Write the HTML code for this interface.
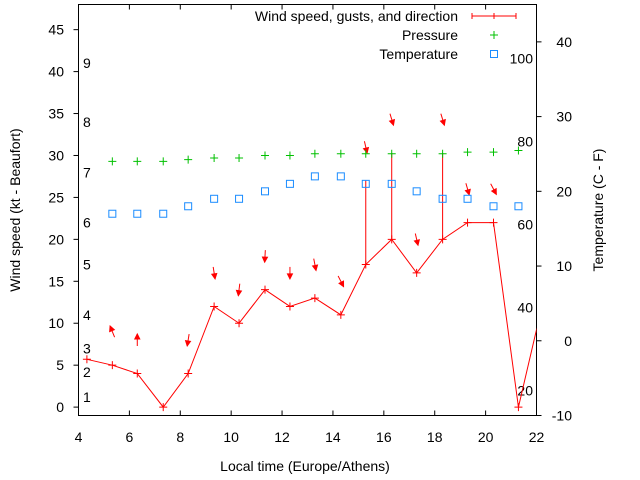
<!DOCTYPE html>
<html><head><meta charset="utf-8"><style>
body{margin:0;background:#fff}
svg{display:block;font-family:"Liberation Sans",sans-serif}
</style></head><body>
<svg id="chart" width="640" height="480" viewBox="0 0 640 480" xmlns="http://www.w3.org/2000/svg">
<defs><clipPath id="plotclip"><rect x="78.5" y="4.5" width="458" height="411"/></clipPath></defs>
<g id="axes"></g>
<g id="series" clip-path="url(#plotclip)"></g>
<g id="legend"></g>
</svg>
<script>
const hours = [4.33,5.33,6.31,7.33,8.31,9.33,10.31,11.33,12.31,13.29,14.31,15.29,16.31,17.29,18.31,19.29,20.31,21.29,22.29];
const windKt = [5.7,5,4,0,4,12,10,14,12,13,11,17,20,16,20,22,22,0,13];
const gustKt = [null,null,null,null,null,null,null,null,null,null,null,27,30.3,null,30.3,null,null,null,null];
const windDirDeg = [null,-158,180,null,-9,9,-7,-3,0,11,27,13,17,13,17,16,28,null,null];
const pressure = [null,29.3,29.3,29.3,29.5,29.7,29.7,30.0,30.0,30.2,30.2,30.2,30.2,30.2,30.2,30.4,30.4,30.6,null];
const tempC = [null,17,17,17,18,19,19,20,21,22,22,21,21,20,19,19,18,18,null];
const xTicks = [4,6,8,10,12,14,16,18,20,22];
const yTicks = [0,5,10,15,20,25,30,35,40,45];
const y2Ticks = [-10,0,10,20,30,40];
const beaufortLabels = ["1","2","3","4","5","6","7","8","9"];
const beaufortKt = [1.2,4.2,7,11,17,22,28,34,41];
const fahrenheitLabels = [20,40,60,80,100];

const L=78.5,R=536.5,T=4.5,B=415.5;
const X=h=>L+(h-4)/18*(R-L);
const Y=v=>B-(v+1)/49*(B-T);
const Y2=c=>B-(c+10)/55*(B-T);
const NS="http://www.w3.org/2000/svg";
function mk(tag,attrs,parent,text){const e=document.createElementNS(NS,tag);for(const k in attrs)e.setAttribute(k,attrs[k]);if(text!==undefined)e.textContent=text;parent.appendChild(e);return e;}
const ax=document.getElementById('axes'), se=document.getElementById('series'), lg=document.getElementById('legend');

let e=mk('rect',{x:L,y:T,width:R-L,height:B-T,fill:'none',stroke:'#000','stroke-width':1},ax);


xTicks.forEach(t=>{
  let a=mk('line',{x1:X(t),x2:X(t),y1:B,y2:B-5,stroke:'#000'},ax);
  
  
  mk('line',{x1:X(t),x2:X(t),y1:T,y2:T+5,stroke:'#000'},ax);
  let l=mk('text',{x:X(t),y:442,'font-size':14,'text-anchor':'middle',fill:'#000'},ax,String(t));
  
  
});
yTicks.forEach(t=>{
  let a=mk('line',{x1:L,x2:L-5,y1:Y(t),y2:Y(t),stroke:'#000'},ax);
  
  
  let l=mk('text',{x:64,y:Y(t)+5,'font-size':14,'text-anchor':'end',fill:'#000'},ax,String(t));
  
  
});
y2Ticks.forEach(t=>{
  let a=mk('line',{x1:R,x2:R+5,y1:Y2(t),y2:Y2(t),stroke:'#000'},ax);
  
  
  let l=mk('text',{x:572,y:Y2(t)+5,'font-size':14,'text-anchor':'end',fill:'#000'},ax,String(t));
  
  
});
beaufortLabels.forEach((s,i)=>{
  let l=mk('text',{x:83,y:Y(beaufortKt[i])+5,'font-size':14,fill:'#000'},ax,s);
  
  
});
fahrenheitLabels.forEach(f=>{
  let l=mk('text',{x:533,y:Y2((f-32)*5/9)+5,'font-size':14,'text-anchor':'end',fill:'#000'},ax,String(f));
  
  
});
e=mk('text',{x:305,y:471,'font-size':14,'text-anchor':'middle',fill:'#000'},ax,'Local time (Europe/Athens)');


e=mk('text',{x:0,y:0,'font-size':14,'text-anchor':'middle',fill:'#000',transform:'translate(20,210) rotate(-90)'},ax,'Wind speed (kt - Beaufort)');


e=mk('text',{x:0,y:0,'font-size':14,'text-anchor':'middle',fill:'#000',transform:'translate(603,210) rotate(-90)'},ax,'Temperature (C - F)');



// wind line
let pts=hours.map((h,i)=>X(h)+','+Y(windKt[i])).join(' ');
e=mk('polyline',{points:pts,fill:'none',stroke:'#f00','stroke-width':1},se);


hours.forEach((h,i)=>{
  const x=X(h),y=Y(windKt[i]);
  let p=mk('path',{d:`M${x-4},${y}H${x+4}M${x},${y-4}V${y+4}`,stroke:'#f00'},se);
  
  
  let top=windKt[i];
  if(gustKt[i]!=null){
    let g=mk('line',{x1:x,x2:x,y1:y,y2:Y(gustKt[i]),stroke:'#f00'},se);
    
    
    top=gustKt[i];
  }
  if(windDirDeg[i]!=null){
    const cx=x,cy=Y(top+4),a=windDirDeg[i]*Math.PI/180;
    const dx=Math.sin(a),dy=Math.cos(a),len=12;
    const hx=cx+dx*len/2,hy=cy+dy*len/2,tx=cx-dx*len/2,ty=cy-dy*len/2;
    const px=-dy,py=dx;
    const bx=hx-dx*5,by=hy-dy*5;
    let ar=mk('g',{},se);
    
    
    mk('line',{x1:tx,y1:ty,x2:hx,y2:hy,stroke:'#f00'},ar);
    mk('polygon',{points:`${hx},${hy} ${bx+px*2.5},${by+py*2.5} ${bx-px*2.5},${by-py*2.5}`,fill:'#f00',stroke:'#f00'},ar);
  }
  if(pressure[i]!=null){
    const py2=Y(pressure[i]);
    let q=mk('path',{d:`M${x-4},${py2}H${x+4}M${x},${py2-4}V${py2+4}`,stroke:'#00c000'},se);
    
    
  }
  if(tempC[i]!=null){
    const ty2=Y2(tempC[i]);
    let s=mk('rect',{x:x-3.5,y:ty2-3.5,width:7,height:7,fill:'none',stroke:'#1a8cff','stroke-width':1},se);
    
    
  }
});

// legend
const legItems=[['Wind speed, gusts, and direction',16],['Pressure',35],['Temperature',54]];
legItems.forEach(([t,y],k)=>{
  let l=mk('text',{x:458,y:y+5,'font-size':14,'text-anchor':'end',fill:'#000'},lg,t);
  
  
});
mk('path',{d:'M472,16H516M472,13V19M516,13V19M494,13V19',stroke:'#f00'},lg);
mk('path',{d:'M490,35H498M494,31V39',stroke:'#00c000'},lg);
mk('rect',{x:490.5,y:50.5,width:7,height:7,fill:'none',stroke:'#1a8cff'},lg);
</script>
</body></html>
